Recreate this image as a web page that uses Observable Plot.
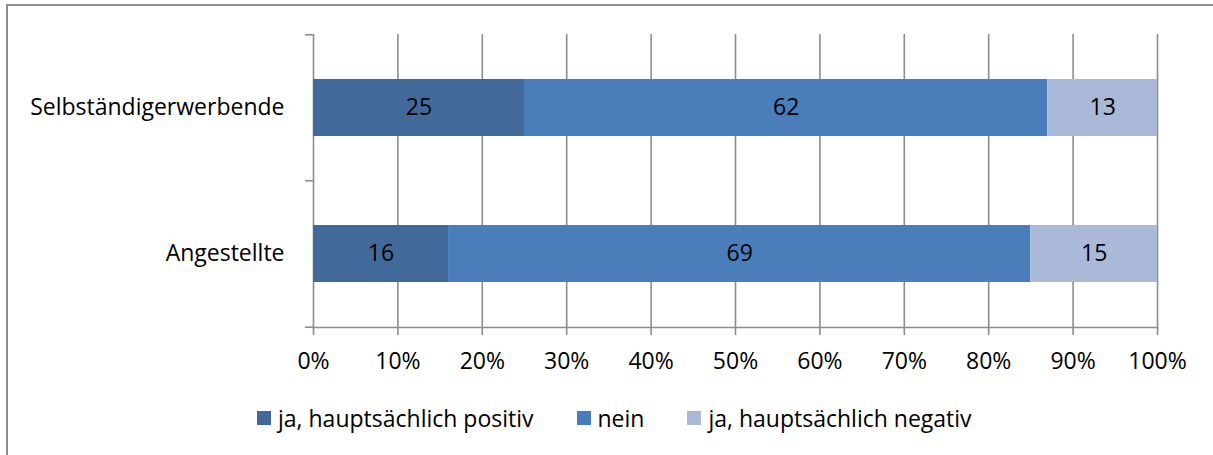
<!DOCTYPE html>
<html>
<head>
<meta charset="utf-8">
<script src="https://cdn.jsdelivr.net/npm/d3@7"></script>
<script src="https://cdn.jsdelivr.net/npm/@observablehq/plot@0.6"></script>
<style>
  html, body { margin: 0; padding: 0; background: #fff; overflow: hidden; }
  #frame {
    position: absolute; left: 6px; top: 4px; width: 1220px; height: 470px;
    border-left: 2px solid #8c8c8c; border-top: 2px solid #8c8c8c;
    font-family: "Open Sans", sans-serif;
  }
  #legend {
    display: flex; align-items: center; margin-top: 17px; padding-left: 249px;
    font-size: 23px; line-height: 30px; color: #000;
  }
  .item { display: flex; align-items: center; margin-right: 43px; }
  .sw { width: 14px; height: 14px; margin-right: 7px; }
</style>
</head>
<body>
<div id="frame"><div id="chart"></div><div id="legend"></div></div>
<script>
const categories = ["Selbständigerwerbende", "Angestellte"];
const series = ["ja, hauptsächlich positiv", "nein", "ja, hauptsächlich negativ"];
const selbstValues = [25, 62, 13];
const angestellteValues = [16, 69, 15];
const xTicks = [0, 10, 20, 30, 40, 50, 60, 70, 80, 90, 100];
const colors = ["#416a9a", "#4a7ebb", "#a9b9d7"];

const valuesByCat = [selbstValues, angestellteValues];
const data = [];
categories.forEach((c, i) => series.forEach((s, j) => data.push({cat: c, series: s, value: valuesByCat[i][j]})));

const gray = "#8c8c8c";
const half = 73.25;

const chart = Plot.plot({
  width: 1205,
  height: 380,
  marginTop: 28,
  marginBottom: 59,
  marginLeft: 305,
  marginRight: 56,
  style: {fontFamily: "Open Sans, sans-serif", fontSize: "23px", color: "#000", background: "#fff", overflow: "visible"},
  x: {domain: [0, 100]},
  y: {domain: categories, paddingInner: 0.611, paddingOuter: 0.3055},
  color: {domain: series, range: colors},
  marks: [
    Plot.gridX(xTicks, {stroke: gray, strokeOpacity: 1, strokeWidth: 1.6}),
    Plot.frame({anchor: "bottom", stroke: gray, strokeWidth: 1.6}),
    Plot.axisX({ticks: xTicks, tickSize: 8, tickPadding: 17, tickFormat: d => d + "%", stroke: gray, strokeWidth: 1.6, fill: "#000", label: null}),
    Plot.axisY({tickSize: 8, dy: -half, tickFormat: () => "", stroke: gray, strokeWidth: 1.6, label: null}),
    Plot.axisY({ticks: [categories[categories.length - 1]], tickSize: 8, dy: half, tickFormat: () => "", stroke: gray, strokeWidth: 1.6, label: null}),
    Plot.axisY({tickSize: 0, tickPadding: 29, fill: "#000", label: null}),
    Plot.barX(data, Plot.stackX({x: "value", y: "cat", fill: "series", order: series})),
    Plot.text(data, Plot.stackX({x: "value", y: "cat", z: "series", text: d => String(d.value), order: series, fill: "#000", fontSize: 23}))
  ]
});
document.getElementById("chart").appendChild(chart);

const legend = document.getElementById("legend");
series.forEach((s, i) => {
  const item = document.createElement("div");
  item.className = "item";
  const sw = document.createElement("div");
  sw.className = "sw";
  sw.style.background = colors[i];
  const t = document.createElement("span");
  t.textContent = s;
  item.appendChild(sw);
  item.appendChild(t);
  legend.appendChild(item);
});
</script>
</body>
</html>
